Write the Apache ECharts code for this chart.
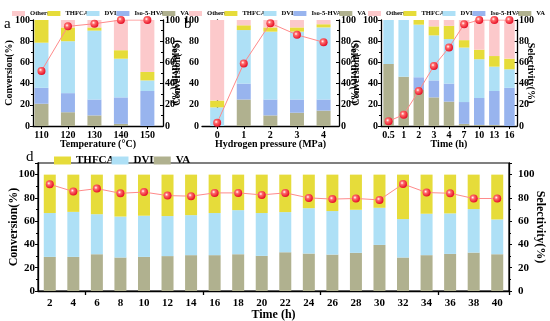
<!DOCTYPE html>
<html><head><meta charset="utf-8">
<script src="https://cdn.jsdelivr.net/npm/echarts@6/dist/echarts.min.js"></script>
<style>html,body{margin:0;padding:0;background:#fff}#c{width:550px;height:321px}</style>
</head><body><div id="c"></div>
<script>
// ---------- data ----------
const legendNames = ['Others', 'THFCA', 'DVL', 'Iso-5-HVA', 'VA'];
// panel a: temperature
const aTemps   = [110, 120, 130, 140, 150];
const aVA      = [21, 13, 10, 2, 0];
const aIso     = [15, 18, 15, 25, 33];
const aDVL     = [42.6, 49, 65, 36.5, 10];
const aTHFCA   = [21.4, 13, 3, 8, 8];
const aOthers  = [0, 7, 7, 28.5, 49];
const aSel     = [52, 94, 96.5, 100, 100];
// panel b: hydrogen pressure
const bPress   = [0, 1, 2, 3, 4];
const bVA      = [0, 25, 10, 12.5, 14.5];
const bIso     = [0, 15, 15, 12.5, 10.5];
const bDVL     = [17.6, 50.5, 64, 64, 68];
const bTHFCA   = [6.4, 4.5, 4, 4, 3];
const bOthers  = [76, 5, 7, 7, 4];
const bSel     = [3, 59, 97, 86, 79];
// panel c: time
const cTimes   = ['0.5', '1', '2', '3', '4', '7', '10', '13', '16'];
const cVA      = [58.5, 46.5, 34, 27, 23, 2, 1, 1, 0];
const cIso     = [0, 0, 12, 16, 17, 20.6, 25.4, 32, 36];
const cDVL     = [41.5, 53.5, 49.6, 42.5, 42, 51.4, 36.6, 23, 17.5];
const cTHFCA   = [0, 0, 4.4, 8.5, 12.5, 7, 9, 10, 10];
const cOthers  = [0, 0, 0, 6, 5.5, 19, 28, 34, 36.5];
const cSel     = [4.5, 10.7, 33, 56.6, 74, 96, 100, 100, 100];
// panel d: stability over time
const dTimes   = ['2','4','6','8','10','12','14','16','18','20','22','24','26','28','30','32','34','36','38','40'];
const dVA      = [29.3,29.3,31.6,28.8,29.3,30,30.8,30.8,31.6,30.2,33.3,32.2,31.3,32.8,39.6,28.8,30.8,31.9,33,31.6];
const dDVL     = [37.7,38.7,34.4,35.2,35.4,34.4,34.4,36.2,37.9,36.8,34.5,39,37.4,37,31.9,33,35.6,34.8,37.4,29.9];
const dTHFCA   = [33,32,34,36,35.3,35.6,34.8,33,30.5,33,32.2,28.8,31.3,30.2,28.5,38.2,33.6,33.3,29.6,38.5];
const dSel     = [91.7,85.5,88,84,85,82,81.5,84.3,84.3,82.6,84.3,80,79,79.5,78.3,92,84.6,84,79.5,79.5];

// ---------- styles ----------
const COL = {Others:'#fcc9cb', THFCA:'#e6dc3a', DVL:'#aee0f6', 'Iso-5-HVA':'#98b4ee', VA:'#b0b18f'};
const FONT = 'Liberation Serif';
const BLACK = '#000';
const markerColor = {type:'radial', x:0.38, y:0.38, r:0.7,
  colorStops:[{offset:0,color:'#ffffff'},{offset:0.3,color:'#ff6a6a'},{offset:1,color:'#e3001b'}]};

const grids = [
  {left:33, top:20, width:130, height:106, outerBoundsMode:'none', containLabel:false},
  {left:202, top:20, width:137, height:106, outerBoundsMode:'none', containLabel:false},
  {left:381, top:20, width:136, height:106, outerBoundsMode:'none', containLabel:false},
  {left:38, top:163, width:471, height:128, outerBoundsMode:'none', containLabel:false,
   show:true, borderColor:'#000', borderWidth:1.2}
];

const axisLine = {show:true, lineStyle:{color:BLACK, width:1.3}};
const lbl = (fs)=>({color:BLACK, fontFamily:FONT, fontWeight:'bold', fontSize:fs});

function yAxes(gi, fs, max, leftName, rightName, nameFs, leftGap, rightGap, rMargin){
  const common = {type:'value', gridIndex:gi, min:0, max:max, interval:20,
    splitLine:{show:false}, axisLine:axisLine, nameMoveOverlap:false,
    minorTick:{show:true, splitNumber:2, length:2, lineStyle:{color:BLACK}},
    nameLocation:'middle', nameTextStyle:lbl(nameFs)};
  const fmt = v => v>100 ? '' : String(v);
  return [
    Object.assign({}, common, {position:'left', name:leftName, nameGap:leftGap,
      axisTick:{show:true, inside:false, length:3, lineStyle:{color:BLACK}},
      axisLabel:Object.assign(lbl(fs), {margin:3, formatter:fmt})}),
    Object.assign({}, common, {position:'right', name:rightName, nameGap:rightGap, nameRotate:-90,
      axisTick:{show:true, inside:gi<3, length:3, lineStyle:{color:BLACK}},
      axisLabel:Object.assign(lbl(fs), {margin:rMargin, formatter:fmt})})
  ];
}

const xAxis = [
  {type:'value', gridIndex:0, min:106.8, max:155.9, splitLine:{show:false}, axisLine:axisLine,
   axisTick:{show:true, length:3, customValues:aTemps, lineStyle:{color:BLACK}},
   axisLabel:Object.assign(lbl(10), {customValues:aTemps, margin:4}), nameMoveOverlap:false,
   name:'Temperature (°C)', nameLocation:'middle', nameGap:13, nameTextStyle:lbl(10)},
  {type:'value', gridIndex:1, min:-0.57, max:4.58, splitLine:{show:false}, axisLine:axisLine,
   axisTick:{show:true, length:3, customValues:bPress, lineStyle:{color:BLACK}},
   axisLabel:Object.assign(lbl(10), {customValues:bPress, margin:4}), nameMoveOverlap:false,
   name:'Hydrogen pressure (MPa)', nameLocation:'middle', nameGap:13, nameTextStyle:lbl(10)},
  {type:'category', gridIndex:2, data:cTimes, axisLine:axisLine,
   axisTick:{show:true, alignWithLabel:true, length:3, lineStyle:{color:BLACK}},
   axisLabel:Object.assign(lbl(10), {margin:4, interval:0}), nameMoveOverlap:false,
   name:'Time (h)', nameLocation:'middle', nameGap:13, nameTextStyle:lbl(10)},
  {type:'category', gridIndex:3, data:dTimes, axisLine:axisLine,
   axisTick:{show:true, length:4, interval:(i)=>i%5===2, lineStyle:{color:BLACK, width:1.3}},
   axisLabel:Object.assign(lbl(11), {margin:7, interval:0}), nameMoveOverlap:false,
   name:'Time (h)', nameLocation:'middle', nameGap:18, nameTextStyle:lbl(12)}
];

const yAxis = [].concat(
  yAxes(0, 10, 100, 'Conversion(%)', 'Selectivity(%)', 10, 19, 7, 2),
  yAxes(1, 10, 100, 'Conversion(%)', 'Selectivity(%)', 10, 20, 10, 2),
  yAxes(2, 10, 100, 'Conversion(%)', 'Selectivity(%)', 10, 20, 9, 2),
  yAxes(3, 11, 110, 'Conversion(%)', 'Selectivity(%)', 12, 18, 25, 9)
);

const series = [];
// value-type base axis: value column first so that it is the stacked dimension
function barSetValue(gi, xs, parts, names, bw){
  parts.forEach((vals, k)=>{
    series.push({type:'bar', name:names[k], xAxisIndex:gi, yAxisIndex:gi*2, stack:'s'+gi,
      barWidth:bw, itemStyle:{color:COL[names[k]]},
      dimensions:['val','pos'], encode:{x:'pos', y:'val'},
      data: vals.map((v,i)=>[v, xs[i]])});
  });
}
function barSetCat(gi, parts, names, bw){
  parts.forEach((vals, k)=>{
    series.push({type:'bar', name:names[k], xAxisIndex:gi, yAxisIndex:gi*2, stack:'s'+gi,
      barWidth:bw, itemStyle:{color:COL[names[k]]}, data: vals});
  });
}
function selLine(gi, xs, ys, isCat){
  series.push({type:'line', name:'Selectivity', xAxisIndex:gi, yAxisIndex:gi*2+1,
    symbol:'circle', symbolSize:8, z:5,
    lineStyle:{color:'#ff8a8a', width:1},
    itemStyle:{color:markerColor, borderWidth:0},
    data: isCat ? ys : xs.map((x,i)=>[x, ys[i]])});
}
const order = ['VA','Iso-5-HVA','DVL','THFCA','Others'];
barSetValue(0, aTemps, [aVA,aIso,aDVL,aTHFCA,aOthers], order, 14);
selLine(0, aTemps, aSel, false);
barSetValue(1, bPress, [bVA,bIso,bDVL,bTHFCA,bOthers], order, 14);
selLine(1, bPress, bSel, false);
barSetCat(2, [cVA,cIso,cDVL,cTHFCA,cOthers], order, 10.5);
selLine(2, cTimes, cSel, true);
barSetCat(3, [dVA,dDVL,dTHFCA], ['VA','DVL','THFCA'], 12);
selLine(3, dTimes, dSel, true);

const smallLegend = (left)=>({left:left, top:5, width:200, itemWidth:13, itemHeight:5, itemGap:-2,
  icon:'rect', data:legendNames, textStyle:lbl(6.6), selectedMode:false});

const option = {
  animation:false,
  backgroundColor:'#fff',
  grid:grids,
  xAxis:xAxis,
  yAxis:yAxis,
  series:series,
  legend:[
    smallLegend(7), smallLegend(184), smallLegend(363),
    {left:49, top:150, itemWidth:17, itemHeight:8, itemGap:-3, icon:'rect',
     data:['THFCA','DVL','VA'], textStyle:lbl(11), selectedMode:false}
  ],
  graphic:[
    {type:'text', left:4, top:17, style:{text:'a', font:'15px "Liberation Serif"', fill:'#000'}},
    {type:'text', left:184, top:17, style:{text:'b', font:'15px "Liberation Serif"', fill:'#000'}},
    {type:'text', left:384, top:23, style:{text:'c', font:'15px "Liberation Serif"', fill:'#000'}},
    {type:'text', left:26, top:150, style:{text:'d', font:'15px "Liberation Serif"', fill:'#000'}}
  ]
};
const chart = echarts.init(document.getElementById('c'), null, {renderer:'canvas'});
chart.setOption(option);
</script></body></html>
